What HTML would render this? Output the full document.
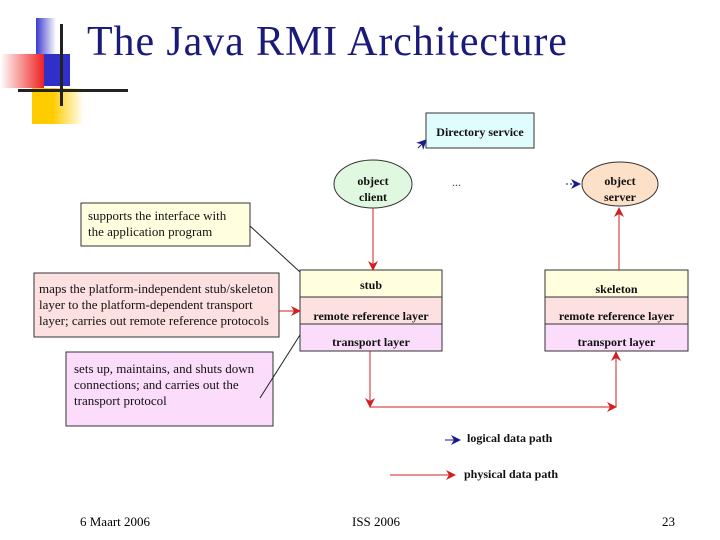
<!DOCTYPE html>
<html><head><style>
body{margin:0;width:720px;height:540px;background:#fff;overflow:hidden;position:relative;font-family:"Liberation Serif",serif}
.a{position:absolute}
.t{font-size:13px;line-height:16px;color:#111}
</style></head><body>
<div class="a" style="left:36px;top:18px;width:20px;height:62px;background:linear-gradient(90deg,#3a3ad0,#fff)"></div>
<div class="a" style="left:44px;top:54px;width:26px;height:32px;background:#3030c8"></div>
<div class="a" style="left:0;top:54px;width:44px;height:34px;background:linear-gradient(90deg,#fff,#ee2222)"></div>
<div class="a" style="left:32px;top:88px;width:52px;height:36px;background:linear-gradient(90deg,#ffcc00 40%,#fff)"></div>
<div class="a" style="left:60px;top:24px;width:3px;height:82px;background:#222"></div>
<div class="a" style="left:18px;top:89px;width:110px;height:3px;background:#222"></div>
<div class="a" style="left:87px;top:18px;font-size:42px;color:#1a1a7a;white-space:nowrap;letter-spacing:0.9px">The Java RMI Architecture</div>

<svg class="a" style="left:0;top:0" width="720" height="540">
<defs>
<marker id="r" markerWidth="10" markerHeight="10" refX="9" refY="5" orient="auto" markerUnits="userSpaceOnUse"><path d="M0,0 L10,5 L0,10 L3,5z" fill="#d02020"/></marker>
<marker id="b" markerWidth="10" markerHeight="10" refX="9" refY="5" orient="auto" markerUnits="userSpaceOnUse"><path d="M0,0 L10,5 L0,10 L3,5z" fill="#1a1a8a"/></marker>
</defs>
<rect x="81" y="203" width="169" height="43" fill="#ffffe0" stroke="#333"/>
<rect x="34" y="273" width="245" height="64" fill="#fde0e0" stroke="#333"/>
<rect x="66" y="352" width="207" height="74" fill="#fbdcfb" stroke="#333"/>
<rect x="426" y="113" width="108" height="35" fill="#e0fcfc" stroke="#333"/>
<ellipse cx="373" cy="184" rx="39" ry="24" fill="#e0f8e0" stroke="#333"/>
<ellipse cx="620" cy="184" rx="38" ry="22" fill="#fde0c8" stroke="#333"/>
<rect x="300" y="270" width="142" height="27" fill="#ffffe0"/>
<rect x="300" y="297" width="142" height="27" fill="#fde0e0"/>
<rect x="300" y="324" width="142" height="27" fill="#fbdcfb"/>
<rect x="300" y="270" width="142" height="81" fill="none" stroke="#333"/>
<line x1="300" y1="297" x2="442" y2="297" stroke="#333"/><line x1="300" y1="324" x2="442" y2="324" stroke="#333"/>
<rect x="545" y="270" width="143" height="27" fill="#ffffe0"/>
<rect x="545" y="297" width="143" height="27" fill="#fde0e0"/>
<rect x="545" y="324" width="143" height="27" fill="#fbdcfb"/>
<rect x="545" y="270" width="143" height="81" fill="none" stroke="#333"/>
<line x1="545" y1="297" x2="688" y2="297" stroke="#333"/><line x1="545" y1="324" x2="688" y2="324" stroke="#333"/>
<line x1="250" y1="226" x2="300" y2="272" stroke="#222"/>
<line x1="260" y1="398" x2="300" y2="335" stroke="#222"/>
<line x1="279" y1="311" x2="300" y2="311" stroke="#d02020" marker-end="url(#r)"/>
<line x1="373" y1="208" x2="373" y2="270" stroke="#d02020" marker-end="url(#r)"/>
<polyline points="370,351 370,407 616,407" fill="none" stroke="#d02020" marker-end="url(#r)"/>
<line x1="370" y1="351" x2="370" y2="407" stroke="#d02020" marker-end="url(#r)"/>
<line x1="616" y1="407" x2="616" y2="352" stroke="#d02020" marker-end="url(#r)"/>
<line x1="619" y1="270" x2="619" y2="208" stroke="#d02020" marker-end="url(#r)"/>
<line x1="418" y1="148" x2="426" y2="140" stroke="#1a1a8a" marker-end="url(#b)"/>
<line x1="566" y1="184" x2="580" y2="184" stroke="#1a1a8a" stroke-dasharray="2,2" marker-end="url(#b)"/>
<line x1="445" y1="440" x2="460" y2="440" stroke="#1a1a8a" marker-end="url(#b)"/>
<line x1="390" y1="475" x2="455" y2="475" stroke="#d02020" marker-end="url(#r)"/>
<text x="452" y="186" font-size="12" fill="#333">...</text>
</svg>

<div class="a t" style="left:88px;top:208px">supports the interface with<br>the application program</div>
<div class="a t" style="left:39px;top:281px">maps the platform-independent stub/skeleton<br>layer to the platform-dependent transport<br>layer; carries out remote reference protocols</div>
<div class="a t" style="left:74px;top:361px">sets up, maintains, and shuts down<br>connections; and carries out the<br>transport protocol</div>
<div class="a t" style="left:426px;top:124px;width:108px;text-align:center;font-weight:bold;font-size:12px">Directory service</div>
<div class="a t" style="left:334px;top:173px;width:78px;text-align:center;font-weight:bold;font-size:12px">object<br>client</div>
<div class="a t" style="left:582px;top:173px;width:76px;text-align:center;font-weight:bold;font-size:12px">object<br>server</div>
<div class="a t" style="left:300px;top:277px;width:142px;text-align:center;font-weight:bold;font-size:12px">stub</div>
<div class="a t" style="left:300px;top:308px;width:142px;text-align:center;font-weight:bold;font-size:12px">remote reference layer</div>
<div class="a t" style="left:300px;top:334px;width:142px;text-align:center;font-weight:bold;font-size:12px">transport layer</div>
<div class="a t" style="left:545px;top:281px;width:143px;text-align:center;font-weight:bold;font-size:12px">skeleton</div>
<div class="a t" style="left:545px;top:308px;width:143px;text-align:center;font-weight:bold;font-size:12px">remote reference layer</div>
<div class="a t" style="left:545px;top:334px;width:143px;text-align:center;font-weight:bold;font-size:12px">transport layer</div>
<div class="a t" style="left:467px;top:430px;font-weight:bold;font-size:12px">logical data path</div>
<div class="a t" style="left:464px;top:466px;font-weight:bold;font-size:12px">physical data path</div>
<div class="a" style="left:80px;top:514px;font-size:13px">6 Maart 2006</div>
<div class="a" style="left:352px;top:514px;font-size:13px">ISS 2006</div>
<div class="a" style="left:662px;top:514px;font-size:13px">23</div>
</body></html>
